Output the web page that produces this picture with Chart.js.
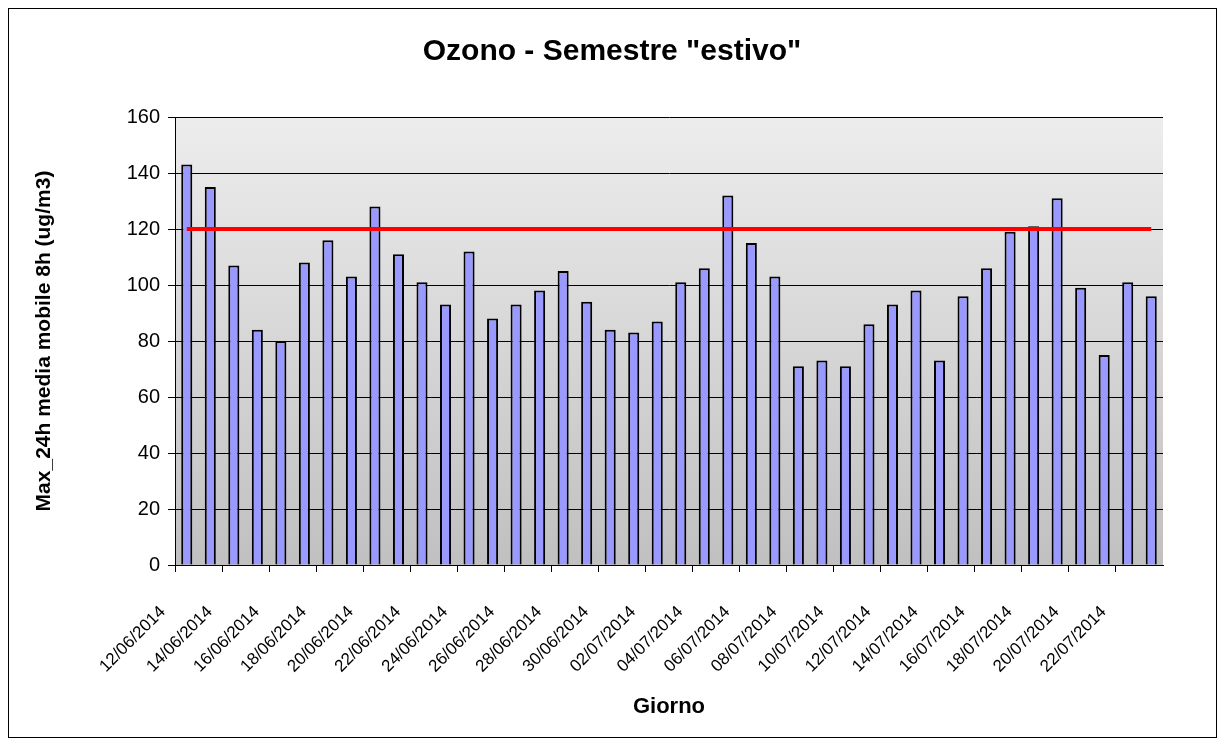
<!DOCTYPE html>
<html>
<head>
<meta charset="utf-8">
<script src="https://cdn.jsdelivr.net/npm/chart.js@4/dist/chart.umd.min.js"></script>
<style>
  body { margin: 0; background: #fff; }
  #wrap { position: relative; width: 1224px; height: 745px; }
  #cornice { position: absolute; left: 8px; top: 8px; width: 1207px; height: 728px; border: 1px solid #000; }
  #chartcontainer { position: absolute; left: 0; top: 0; }
</style>
</head>
<body>
<div id="wrap">
  <div id="cornice"></div>
  <canvas id="chartcontainer" width="1224" height="745"></canvas>
</div>
<script>
// giorni (asse x)
var giorni = [
  "12/06/2014", "13/06/2014", "14/06/2014", "15/06/2014", "16/06/2014", "17/06/2014",
  "18/06/2014", "19/06/2014", "20/06/2014", "21/06/2014", "22/06/2014", "23/06/2014",
  "24/06/2014", "25/06/2014", "26/06/2014", "27/06/2014", "28/06/2014", "29/06/2014",
  "30/06/2014", "01/07/2014", "02/07/2014", "03/07/2014", "04/07/2014", "05/07/2014",
  "06/07/2014", "07/07/2014", "08/07/2014", "09/07/2014", "10/07/2014", "11/07/2014",
  "12/07/2014", "13/07/2014", "14/07/2014", "15/07/2014", "16/07/2014", "17/07/2014",
  "18/07/2014", "19/07/2014", "20/07/2014", "21/07/2014", "22/07/2014", "23/07/2014"
];

// max giornaliero media mobile 8h (ug/m3)
var maxMedia8h = [
  143, 135, 107, 84, 80, 108,
  116, 103, 128, 111, 101, 93,
  112, 88, 93, 98, 105, 94,
  84, 83, 87, 101, 106, 132,
  115, 103, 71, 73, 71, 86,
  93, 98, 73, 96, 106, 119,
  121, 131, 99, 75, 101, 96
];

// valore obiettivo 120 ug/m3, dal primo all'ultimo giorno
var soglia = 120;
var sogliaGiorni = ["12/06/2014", "23/07/2014"];

var yTicks = [0, 20, 40, 60, 80, 100, 120, 140, 160];

var FONT = "'Liberation Sans', Arial, sans-serif";

// sfondo grigio sfumato dell'area del grafico
var sfondoPlot = {
  id: 'sfondoPlot',
  beforeDraw: function(chart) {
    var a = chart.chartArea;
    var ctx = chart.ctx;
    var g = ctx.createLinearGradient(0, a.top, 0, a.bottom);
    g.addColorStop(0, '#ededed');
    g.addColorStop(1, '#c0c0c0');
    ctx.save();
    ctx.fillStyle = g;
    ctx.fillRect(a.left, a.top, a.right - a.left, a.bottom - a.top);
    ctx.restore();
  }
};

var ctx = document.getElementById("chartcontainer").getContext('2d');
var chart = new Chart(ctx, {
  data: {
    labels: giorni,
    datasets: [
      {
        type: 'line',
        data: sogliaGiorni.map(function(g) { return { x: g, y: soglia }; }),
        borderColor: '#ff0000',
        borderWidth: 4,
        pointRadius: 0,
        order: 0
      },
      {
        type: 'bar',
        data: maxMedia8h,
        backgroundColor: '#9999ff',
        borderColor: '#000000',
        borderWidth: 2,
        barPercentage: 0.47,
        categoryPercentage: 1,
        order: 1
      }
    ]
  },
  options: {
    responsive: false,
    animation: false,
    // sinistra = destra perche' il titolo sia centrato sulla cornice
    layout: { padding: { left: 61, right: 61, top: 10, bottom: 20 } },
    plugins: {
      legend: { display: false },
      tooltip: { enabled: false },
      title: {
        display: true,
        text: 'Ozono - Semestre "estivo"',
        color: '#000',
        font: { family: FONT, size: 30, weight: 'bold' },
        padding: { top: 24, bottom: 47 }
      }
    },
    scales: {
      x: {
        offset: true,
        grid: {
          offset: true,
          drawOnChartArea: false,
          tickLength: 7,
          color: function(c) { return c.index % 2 === 0 ? '#000' : 'rgba(0,0,0,0)'; }
        },
        border: { color: '#000', width: 1 },
        ticks: {
          autoSkip: false,
          maxRotation: 45,
          minRotation: 45,
          padding: 30,
          labelOffset: -24,
          color: '#000',
          font: { family: FONT, size: 17 },
          callback: function(v, i) { return i % 2 === 0 ? giorni[i] : ''; }
        },
        title: {
          display: true,
          text: 'Giorno',
          color: '#000',
          font: { family: FONT, size: 22, weight: 'bold' },
          padding: { top: 0, bottom: 5 }
        },
        afterFit: function(s) { s.height = 160; }
      },
      y: {
        min: 0,
        max: 160,
        afterBuildTicks: function(s) { s.ticks = yTicks.map(function(v) { return { value: v }; }); },
        grid: {
          color: '#000',
          lineWidth: 1,
          tickLength: 7,
          drawTicks: true
        },
        border: { color: '#000', width: 1 },
        ticks: {
          color: '#000',
          padding: 8,
          font: { family: FONT, size: 20 }
        },
        title: {
          display: true,
          text: 'Max_24h media mobile 8h (ug/m3)',
          color: '#000',
          font: { family: FONT, size: 21, weight: 'bold' },
          padding: { top: -29.6, bottom: 0 }
        },
        afterFit: function(s) { s.width = 114; }
      }
    }
  },
  plugins: [sfondoPlot]
});
</script>
</body>
</html>
